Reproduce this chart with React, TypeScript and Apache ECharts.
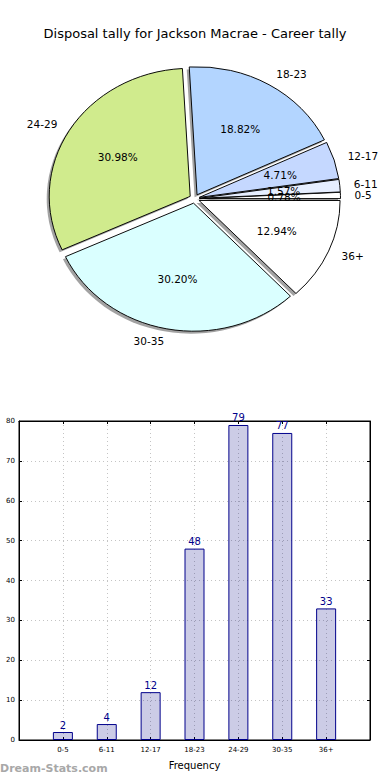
import React, { useEffect, useRef } from "react";
import * as echarts from "echarts";

const titleText = "Disposal tally for Jackson Macrae - Career tally";
const categories = ["0-5", "6-11", "12-17", "18-23", "24-29", "30-35", "36+"];
const frequencies = [2, 4, 12, 48, 79, 77, 33];
const sliceColors = ["#ffffff", "#e6eeff", "#c5d8ff", "#b3d5ff", "#d0eb8d", "#daffff", "#ffffff"];
const yTicks = [0, 10, 20, 30, 40, 50, 60, 70, 80];

const FONT = "DejaVu Sans, sans-serif";
// pie geometry (elliptical, as in the reference)
const CX = 194.5;
const CY = 198.7;
const RX = 141;
const RY = 128;
const EXPLODE = 5;

export default function App() {
  const ref = useRef<HTMLDivElement>(null);

  useEffect(() => {
    if (!ref.current) return;
    const chart = echarts.init(ref.current, undefined, { renderer: "svg" });
    const total = frequencies.reduce((a, b) => a + b, 0);
    const starts: number[] = [];
    let acc = 0;
    frequencies.forEach((v) => {
      starts.push(acc);
      acc += v;
    });

    const padCats = ["", ...categories, ""];
    const padVals: (number | null)[] = [null, ...frequencies, null];

    const renderSlice = (params: any) => {
      const i = params.dataIndex;
      const v = frequencies[i];
      const t1 = (starts[i] / total) * Math.PI * 2;
      const t2 = ((starts[i] + v) / total) * Math.PI * 2;
      const mid = (t1 + t2) / 2;
      const c = Math.cos(mid);
      const s = Math.sin(mid);
      const ox = CX + EXPLODE * c;
      const oy = CY - EXPLODE * (RY / RX) * s;
      const sc = RY / RX;
      const shape = { cx: 0, cy: 0, r0: 0, r: RX, startAngle: -t1, endAngle: -t2, clockwise: false };
      const pct = ((v / total) * 100).toFixed(2) + "%";
      const lx = ox + 1.1 * RX * c;
      const ly = oy - 1.1 * RY * s;
      const px = ox + 0.6 * RX * c;
      const py = oy - 0.6 * RY * s;
      return {
        type: "group",
        children: [
          {
            type: "sector",
            shape,
            x: ox - 2.5,
            y: oy + 2.5,
            scaleY: sc,
            z2: 0,
            style: { fill: "rgba(70,70,70,0.5)", stroke: "none" },
          },
          {
            type: "sector",
            shape,
            x: ox,
            y: oy,
            scaleY: sc,
            z2: 5,
            style: { fill: sliceColors[i], stroke: "#000", lineWidth: 1 },
          },
          {
            type: "text",
            x: px,
            y: py,
            z2: 10,
            style: {
              text: pct,
              fill: "#000",
              font: `10.5px ${FONT}`,
              align: "center",
              verticalAlign: "middle",
              textAlign: "center",
              textVerticalAlign: "middle",
            },
          },
          {
            type: "text",
            x: lx,
            y: ly,
            z2: 10,
            style: {
              text: categories[i],
              fill: "#000",
              font: `10.5px ${FONT}`,
              align: c > 0 ? "left" : "right",
              verticalAlign: "middle",
              textAlign: c > 0 ? "left" : "right",
              textVerticalAlign: "middle",
            },
          },
        ],
      };
    };

    const tickLabel = { fontSize: 7, color: "#000", fontFamily: FONT };
    const dotted = { show: true, lineStyle: { color: "#c4c4c4", type: [1, 3] as any, width: 1 } };
    const line = { show: true, onZero: false, lineStyle: { color: "#000", width: 1 } };
    const tick = { show: true, inside: true, length: 3, lineStyle: { color: "#000" } };

    chart.setOption({
      animation: false,
      title: {
        text: titleText,
        left: "center",
        top: 22,
        textStyle: { fontSize: 13, fontWeight: "normal", color: "#000", fontFamily: FONT },
      },
      grid: {
        left: 19,
        top: 421,
        width: 351,
        height: 319,
        show: true,
        borderColor: "#000",
        borderWidth: 1,
        backgroundColor: "transparent",
      },
      xAxis: [
        {
          type: "category",
          data: padCats,
          boundaryGap: false,
          position: "bottom",
          axisLine: line,
          axisTick: tick,
          axisLabel: { ...tickLabel, margin: 6, interval: 0 },
          splitLine: dotted,
          name: "Frequency",
          nameLocation: "middle",
          nameGap: 20,
          nameTextStyle: { fontSize: 10, color: "#000", fontFamily: FONT },
        },
        {
          type: "category",
          data: padCats,
          boundaryGap: false,
          position: "top",
          axisLine: line,
          axisTick: tick,
          axisLabel: { show: false },
          splitLine: { show: false },
        },
      ],
      yAxis: [
        {
          type: "value",
          min: yTicks[0],
          max: yTicks[yTicks.length - 1],
          interval: 10,
          position: "left",
          axisLine: line,
          axisTick: tick,
          axisLabel: { ...tickLabel, margin: 4 },
          splitLine: dotted,
        },
        {
          type: "value",
          min: yTicks[0],
          max: yTicks[yTicks.length - 1],
          interval: 10,
          position: "right",
          axisLine: line,
          axisTick: tick,
          axisLabel: { show: false },
          splitLine: { show: false },
        },
      ],
      series: [
        {
          type: "custom",
          coordinateSystem: "none",
          data: frequencies,
          renderItem: renderSlice,
          silent: true,
        },
        {
          type: "bar",
          xAxisIndex: 0,
          yAxisIndex: 0,
          data: padVals,
          barWidth: 20,
          itemStyle: { color: "rgba(0,0,128,0.2)", borderColor: "#00008b", borderWidth: 1 },
          label: {
            show: true,
            position: "top",
            distance: 2,
            color: "#00008b",
            fontSize: 10,
            fontFamily: FONT,
          },
        },
      ],
      graphic: [
        {
          type: "text",
          left: 0,
          top: 763,
          style: {
            text: "Dream-Stats.com",
            fill: "#a8a8a8",
            font: `bold 11px ${FONT}`,
          },
        },
      ],
    });

    return () => chart.dispose();
  }, []);

  return (
    <div
      ref={ref}
      style={{ position: "absolute", left: 0, top: 0, width: 390, height: 780, background: "#fff" }}
    />
  );
}
